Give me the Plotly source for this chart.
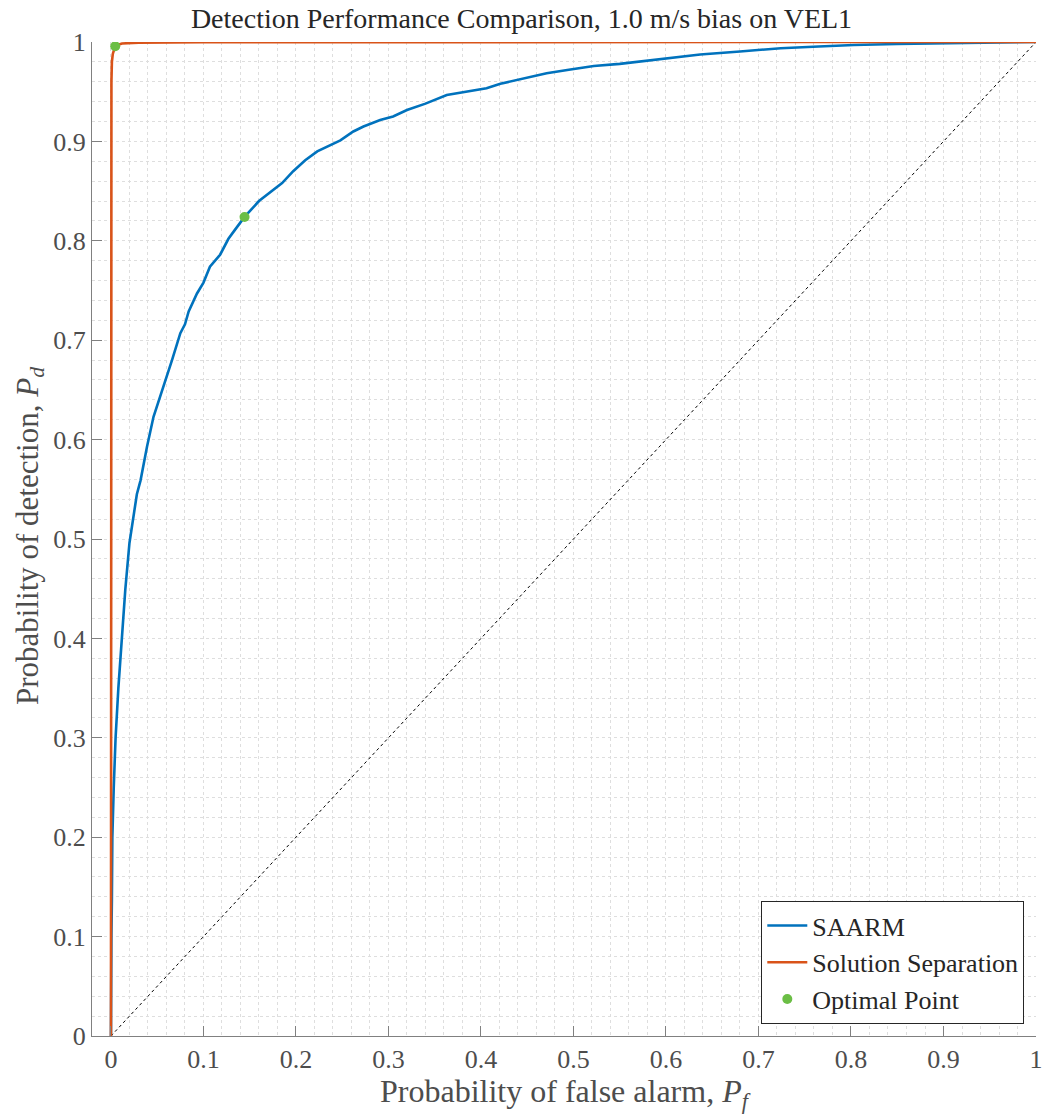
import plotly.graph_objects as go

# SAARM ROC curve
saarm_pf = [0.0, 0.0, 0.0005, 0.001, 0.0015, 0.003, 0.005, 0.008, 0.012, 0.0155, 0.020, 0.024,
            0.028, 0.032, 0.036, 0.039, 0.046, 0.052, 0.057, 0.066, 0.075, 0.080, 0.084, 0.093,
            0.100, 0.107, 0.118, 0.127, 0.134, 0.1444, 0.160, 0.172, 0.185, 0.197, 0.210,
            0.223, 0.235, 0.248, 0.262, 0.273, 0.291, 0.305, 0.320, 0.340, 0.363, 0.385,
            0.406, 0.421, 0.445, 0.471, 0.495, 0.522, 0.550, 0.579, 0.610, 0.637, 0.680,
            0.724, 0.765, 0.803, 0.850, 0.907, 0.950, 1.0]
saarm_pd = [0.0, 0.05, 0.1, 0.137, 0.2, 0.25, 0.3, 0.35, 0.408, 0.449, 0.496, 0.522,
            0.545, 0.559, 0.580, 0.593, 0.623, 0.640, 0.653, 0.680, 0.707, 0.716, 0.729, 0.747,
            0.758, 0.774, 0.786, 0.802, 0.811, 0.824, 0.840, 0.849, 0.858, 0.870, 0.881,
            0.890, 0.895, 0.901, 0.910, 0.915, 0.9215, 0.925, 0.9316, 0.938, 0.9467, 0.950,
            0.9534, 0.958, 0.963, 0.9685, 0.972, 0.9758, 0.978, 0.9812, 0.985, 0.9875, 0.9905,
            0.9937, 0.9955, 0.997, 0.998, 0.9987, 0.9993, 1.0]

# Solution Separation ROC curve
ss_pf = [0.0, 0.0, 0.0005, 0.001, 0.002, 0.004, 0.007, 0.012, 0.03, 0.1, 0.5, 1.0]
ss_pd = [0.0, 0.9, 0.96, 0.98, 0.988, 0.994, 0.997, 0.9985, 0.9993, 0.9998, 1.0, 1.0]

# Optimal points
opt_pf = [0.0046, 0.1444]
opt_pd = [0.9957, 0.824]

# Chance line
chance = [0.0, 1.0]

tick_vals = [0, 0.1, 0.2, 0.3, 0.4, 0.5, 0.6, 0.7, 0.8, 0.9, 1]
tick_text = ["0", "0.1", "0.2", "0.3", "0.4", "0.5", "0.6", "0.7", "0.8", "0.9", "1"]

FONT = "Liberation Serif"
BLUE = "#0072BD"
ORANGE = "#D95319"
GREEN = "#6BBE45"

fig = go.Figure()
fig.add_trace(go.Scatter(x=chance, y=chance, mode="lines", showlegend=False,
                         line=dict(color="#000000", width=1, dash="dot")))
fig.add_trace(go.Scatter(x=saarm_pf, y=saarm_pd, mode="lines", name="SAARM",
                         line=dict(color=BLUE, width=2.6)))
fig.add_trace(go.Scatter(x=ss_pf, y=ss_pd, mode="lines", name="Solution Separation",
                         line=dict(color=ORANGE, width=2.6)))
fig.add_trace(go.Scatter(x=opt_pf, y=opt_pd, mode="markers", name="Optimal Point",
                         marker=dict(color=GREEN, size=10)))

axis_common = dict(
    tickvals=tick_vals, ticktext=tick_text,
    ticks="inside", ticklen=10, tickcolor="#808080", tickwidth=1,
    showline=True, linecolor="#808080", linewidth=1.2,
    showgrid=True, gridcolor="#dedede", griddash="dot", gridwidth=1,
    minor=dict(dtick=0.02, tick0=0, showgrid=True, gridcolor="#dedede",
               griddash="dot", gridwidth=1),
    zeroline=False, automargin=False,
    tickfont=dict(family=FONT, size=26, color="#4d4d4d"),
)

fig.update_layout(
    width=1043, height=1115,
    margin=dict(l=92, r=7, t=42, b=79),
    paper_bgcolor="white", plot_bgcolor="white",
    title=dict(text="Detection Performance Comparison, 1.0 m/s bias on VEL1",
               x=0.5, xref="container", xanchor="center",
               y=1 - 18 / 1115, yref="container", yanchor="middle",
               font=dict(family=FONT, size=28, color="#262626")),
    xaxis=dict(range=[-0.0205, 1.0], **axis_common),
    yaxis=dict(range=[0, 1.0], **axis_common),
    legend=dict(x=0.9876, y=0.012, xanchor="right", yanchor="bottom",
                bgcolor="white", bordercolor="#262626", borderwidth=1,
                font=dict(family=FONT, size=26, color="#262626"),
                tracegroupgap=0, itemwidth=40),
    showlegend=True,
    annotations=[
        dict(text="Probability of false alarm, <i>P</i><sub><i>f</i></sub>",
             xref="paper", yref="paper", x=0.502, y=-57 / 994,
             xanchor="center", yanchor="middle", showarrow=False,
             font=dict(family=FONT, size=32, color="#4d4d4d")),
        dict(text="Probability of detection, <i>P</i><sub><i>d</i></sub>",
             xref="paper", yref="paper", x=-62 / 944, y=0.503,
             xanchor="center", yanchor="middle", showarrow=False, textangle=-90,
             font=dict(family=FONT, size=31, color="#4d4d4d")),
    ],
)

fig.write_html("out.html")
